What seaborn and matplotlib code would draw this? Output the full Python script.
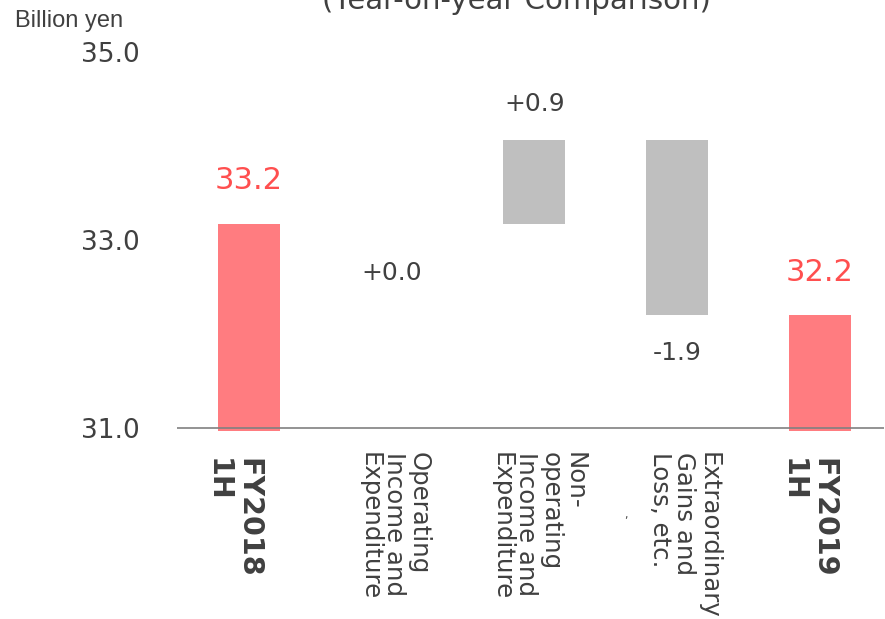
import numpy as np
import pandas as pd
import matplotlib
matplotlib.use("Agg")
import matplotlib.pyplot as plt
import seaborn as sns

# chart values (billion yen)
categories = ["FY2018\n1H", "Operating\nIncome and\nExpenditure",
              "Non-\noperating\nIncome and\nExpenditure",
              "Extraordinary\nGains and\nLoss, etc.", "FY2019\n1H"]
start_total = 33.17
changes = [0.0, 0.89, -1.86]
is_total = [True, False, False, False, True]
yticks = [31.0, 33.0, 35.0]

# build waterfall table from the values
levels = np.cumsum([start_total] + changes)
end_total = levels[-1]
bottoms = [0.0] + list(np.minimum(levels[:-1], levels[1:])) + [0.0]
heights = [start_total] + list(np.abs(changes)) + [end_total]
df = pd.DataFrame({"cat": categories, "height": heights, "bottom": bottoms})

red_bar = "#FF7C80"
red_txt = "#FF4F4F"
grey_bar = "#BFBFBF"
txt = "#404040"

sns.set_style("white")
plt.rcParams["font.family"] = ["DejaVu Sans"]

fig = plt.figure(figsize=(8.85, 6.19), dpi=100)
ax = fig.add_axes([0.2005, 0.304, 0.7985, 0.612])

sns.barplot(data=df, x="cat", y="height", bottom=df["bottom"].values,
            width=0.435, color=grey_bar, ax=ax, zorder=2)
for p, tot in zip(ax.patches, is_total):
    p.set_facecolor(red_bar if tot else grey_bar)
    p.set_edgecolor("none")

ax.set_ylim(30.968, 35.0)
ax.set_xlim(-0.5, 4.45)
ax.axhline(31.0, color="#808080", lw=1.2, zorder=3)
for s in ax.spines.values():
    s.set_visible(False)

ax.set_yticks(yticks)
ax.set_yticklabels([f"{v:.1f}" for v in yticks], fontsize=19, color=txt)
ax.tick_params(axis="y", length=0, pad=27)
ax.set_xticks([])
ax.set_xlabel("")
ax.set_ylabel("")

# category labels, written top-to-bottom under each bar
label_dx = [-11.5, 2, 3, 5, -8.5]
for i, (cat, tot) in enumerate(zip(categories, is_total)):
    ax.annotate(cat, (i, 0), xycoords=("data", "axes fraction"),
                xytext=(label_dx[i], -19.5 if tot else -15),
                textcoords="offset points", rotation=270,
                ha="center", va="top", multialignment="left", color=txt,
                fontsize=20.5 if tot else 17.6,
                fontweight="bold" if tot else "normal",
                linespacing=1.12 if tot else 1.02)

# value labels
totals = [start_total, None, None, None, end_total]
for i, tot in enumerate(is_total):
    if tot:
        ax.annotate(f"{totals[i]:.1f}", (i, totals[i]), xytext=(0, 31),
                    textcoords="offset points", ha="center", va="center",
                    fontsize=22, color=red_txt)
    else:
        ch = changes[i - 1]
        if ch > 0:
            y, off = levels[i], 26
        elif ch < 0:
            y, off = levels[i], -27
        else:
            y, off = levels[i], -35
        ax.annotate(f"{ch:+.1f}", (i, y), xytext=(0, off),
                    textcoords="offset points", ha="center", va="center",
                    fontsize=18, color=txt)

fig.text(0.017, 0.966, "Billion yen", fontsize=17,
         color=txt, family=["DejaVu Sans Condensed", "Liberation Sans"],
         va="center")
fig.text(0.584, 0.998, "(Year-on-year Comparison)", fontsize=21, color=txt,
         ha="center", va="center")
# small stray mark present in the source slide
fig.text(0.707, 0.168, ",", fontsize=8, color=txt, ha="center", va="center")

fig.savefig("out.png", dpi=100)
